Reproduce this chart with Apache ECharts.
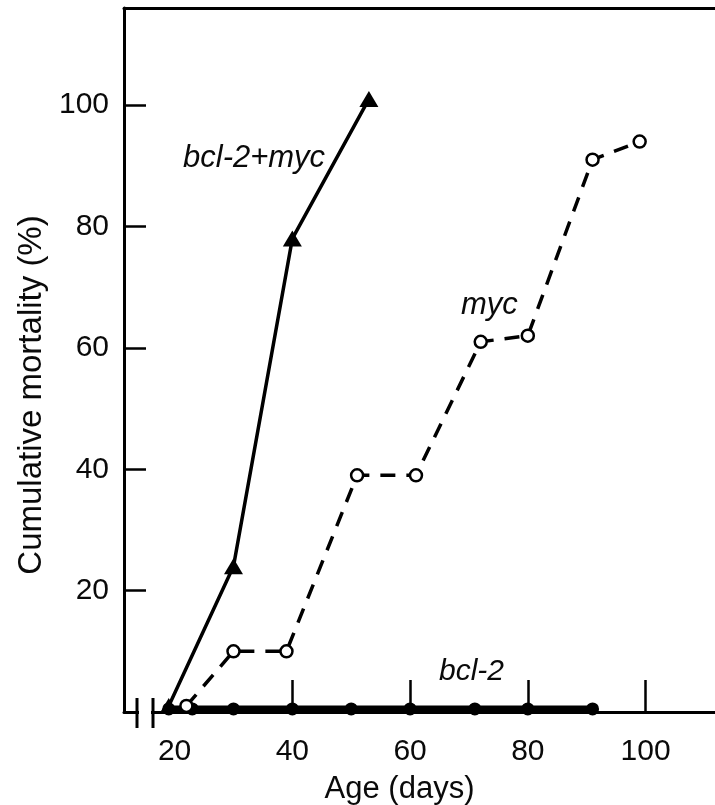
<!DOCTYPE html>
<html>
<head>
<meta charset="utf-8">
<script src="https://cdn.jsdelivr.net/npm/echarts@6/dist/echarts.min.js"></script>
<style>
  html, body { margin: 0; padding: 0; background: #fff; }
  #main { width: 715px; height: 805px; }
</style>
</head>
<body>
<div id="main"></div>
<script>
// values: [age in days, cumulative mortality %]
var bcl2Myc = [[19, 1], [30, 24], [40, 78], [53, 101]];
var myc = [[22, 1], [30, 10], [39, 10], [51, 39], [61, 39], [72, 61], [80, 62], [91, 91], [99, 94]];
var bcl2 = [[19, 0.5], [23, 0.5], [30, 0.5], [40, 0.5], [50, 0.5], [60, 0.5], [71, 0.5], [80, 0.5], [91, 0.5]];

var xTicks = [40, 60, 80, 100];
var xLabels = [20, 40, 60, 80, 100];
var yTicks = [20, 40, 60, 80, 100];

var font = '"Liberation Sans", Arial, Helvetica, sans-serif';

var myChart = echarts.init(document.getElementById('main'));

var option = {
    animation: false,
    backgroundColor: '#fff',
    grid: { left: 124, right: 0, top: 8, bottom: 93, outerBoundsMode: 'none' },
    xAxis: [
        {
            type: 'value',
            min: 11.4,
            max: 111.8,
            name: 'Age (days)',
            nameLocation: 'middle',
            nameGap: 62,
            nameTextStyle: { fontFamily: font, fontSize: 31, color: '#0a0a0a', padding: [0, 40, 0, 0] },
            axisLine: { show: true, lineStyle: { color: '#000', width: 3 } },
            axisTick: { show: true, inside: true, length: 32, customValues: xTicks, lineStyle: { color: '#000', width: 2.5 } },
            axisLabel: { customValues: xLabels, margin: 25, fontFamily: font, fontSize: 30, color: '#0a0a0a' },
            splitLine: { show: false }
        },
        {
            type: 'value',
            position: 'top',
            min: 11.4,
            max: 111.8,
            axisLine: { show: true, lineStyle: { color: '#000', width: 3 } },
            axisTick: { show: false },
            axisLabel: { show: false },
            splitLine: { show: false }
        }
    ],
    yAxis: {
        type: 'value',
        min: 0,
        max: 116,
        name: 'Cumulative mortality (%)',
        nameLocation: 'middle',
        nameGap: 76,
        nameTextStyle: { fontFamily: font, fontSize: 33, color: '#0a0a0a', padding: [0, 70, 0, 0] },
        axisLine: { show: true, lineStyle: { color: '#000', width: 3 } },
        axisTick: { show: true, inside: true, length: 22, customValues: yTicks, lineStyle: { color: '#000', width: 2.5 } },
        axisLabel: { customValues: yTicks, margin: 15, fontFamily: font, fontSize: 30, color: '#0a0a0a' },
        splitLine: { show: false }
    },
    series: [
        {
            name: 'bcl-2',
            type: 'line',
            data: bcl2,
            symbol: 'circle',
            symbolSize: 13,
            itemStyle: { color: '#000' },
            lineStyle: { color: '#000', width: 7 },
            z: 2
        },
        {
            name: 'bcl-2+myc',
            type: 'line',
            data: bcl2Myc,
            symbol: 'triangle',
            symbolSize: [19, 16],
            itemStyle: { color: '#000' },
            lineStyle: { color: '#000', width: 3.5 },
            z: 3
        },
        {
            name: 'myc',
            type: 'line',
            data: myc,
            symbol: 'circle',
            symbolSize: 12,
            itemStyle: { color: '#fff', borderColor: '#000', borderWidth: 2.5 },
            lineStyle: { color: '#000', width: 3.5, type: [15, 11] },
            z: 4
        }
    ],
    graphic: [
        { type: 'text', z: 100, style: { text: 'bcl-2+myc', x: 183, y: 158, font: 'italic 31px ' + font, fill: '#0a0a0a', verticalAlign: 'middle' } },
        { type: 'text', z: 100, style: { text: 'myc', x: 461, y: 305, font: 'italic 31px ' + font, fill: '#0a0a0a', verticalAlign: 'middle' } },
        { type: 'text', z: 100, style: { text: 'bcl-2', x: 439, y: 672, font: 'italic 30px ' + font, fill: '#0a0a0a', verticalAlign: 'middle' } },
        // axis break
        { type: 'rect', z: 100, shape: { x: 139, y: 706, width: 12, height: 12 }, style: { fill: '#fff' } },
        { type: 'line', z: 101, shape: { x1: 137, y1: 698, x2: 137, y2: 728 }, style: { stroke: '#000', lineWidth: 3 } },
        { type: 'line', z: 101, shape: { x1: 153, y1: 698, x2: 153, y2: 728 }, style: { stroke: '#000', lineWidth: 3 } }
    ]
};

myChart.setOption(option);

window.onresize = function () {
    myChart.resize();
};
</script>
</body>
</html>
